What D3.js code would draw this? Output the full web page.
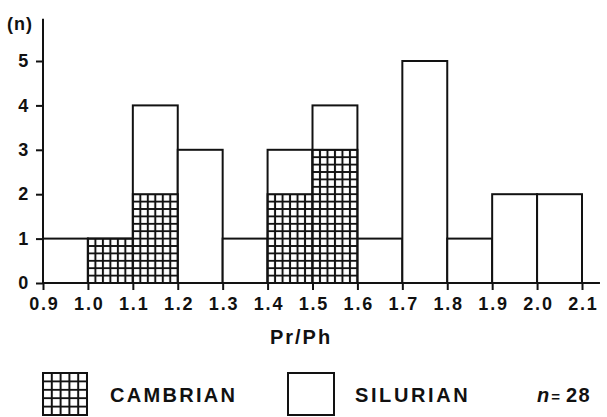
<!DOCTYPE html>
<html>
<head>
<meta charset="utf-8">
<script src="https://cdn.jsdelivr.net/npm/d3@7"></script>
<style>
  html, body { margin: 0; padding: 0; background: #fff; }
  svg { display: block; }
  text { font-family: "Liberation Sans", Arial, Helvetica, sans-serif; fill: #111; }
</style>
</head>
<body>
<svg id="chart" width="607" height="417"></svg>
<script>
// bins of Pr/Ph (left edges), counts per period
const binStarts = [0.9, 1.0, 1.1, 1.2, 1.3, 1.4, 1.5, 1.6, 1.7, 1.8, 1.9, 2.0];
const binWidth = 0.1;
const cambrian = [0, 1, 2, 0, 0, 2, 3, 0, 0, 0, 0, 0];
const silurian = [1, 0, 2, 3, 1, 1, 1, 1, 5, 1, 2, 2];
const xTicks = [0.9, 1.0, 1.1, 1.2, 1.3, 1.4, 1.5, 1.6, 1.7, 1.8, 1.9, 2.0, 2.1];
const yTicks = [0, 1, 2, 3, 4, 5];
const nTotal = 28;

const svg = d3.select("#chart");
const ink = "#121212";

// 1) scales
const x = d3.scaleLinear().domain([0.9, 2.1]).range([43, 582]);
const y = d3.scaleLinear().domain([0, 5]).range([283, 61]);
const xAxisEnd = 2.14;   // x axis line runs a bit past the last tick
const yAxisTop = 5.95;

// 2) hatch pattern (6 x 6 cells per bin / per unit)
const cellW = (x(1.0) - x(0.9)) / 6;
const cellH = (y(0) - y(1)) / 6;
const defs = svg.append("defs");
function gridPattern(id, w, h, ox, oy) {
  const p = defs.append("pattern")
    .attr("id", id)
    .attr("patternUnits", "userSpaceOnUse")
    .attr("x", ox).attr("y", oy)
    .attr("width", w).attr("height", h);
  p.append("rect").attr("width", w).attr("height", h).attr("fill", "#fff");
  p.append("path")
    .attr("d", `M0,0H${w}M0,0V${h}M${w},0V${h}M0,${h}H${w}`)
    .attr("stroke", ink)
    .attr("stroke-width", 2)
    .attr("fill", "none");
}
gridPattern("hatch", cellW, cellH, x(0.9), y(1));

const data = binStarts.map((b, i) => ({
  x0: b, x1: b + binWidth, c: cambrian[i], s: silurian[i], total: cambrian[i] + silurian[i]
}));

// 3) bars: outline of the total, then the cambrian part hatched
const bars = svg.append("g");
bars.selectAll(".tot")
  .data(data)
  .join("rect")
  .attr("class", "tot")
  .attr("x", d => x(d.x0))
  .attr("width", d => x(d.x1) - x(d.x0))
  .attr("y", d => y(d.total))
  .attr("height", d => y(0) - y(d.total))
  .attr("fill", "#fff")
  .attr("stroke", ink)
  .attr("stroke-width", 2);

bars.selectAll(".camb")
  .data(data.filter(d => d.c > 0))
  .join("rect")
  .attr("class", "camb")
  .attr("x", d => x(d.x0))
  .attr("width", d => x(d.x1) - x(d.x0))
  .attr("y", d => y(d.c))
  .attr("height", d => y(0) - y(d.c))
  .attr("fill", "url(#hatch)")
  .attr("stroke", ink)
  .attr("stroke-width", 2);

// 4) axes
const tickFont = g => g.selectAll("text")
  .attr("font-size", 18)
  .attr("font-weight", "bold")
  .attr("letter-spacing", 1.8)
  .attr("fill", ink);

const xAxis = svg.append("g")
  .attr("transform", `translate(0,${y(0)})`)
  .call(d3.axisBottom(x).tickValues(xTicks).tickSize(7).tickPadding(7)
    .tickFormat(d3.format(".1f")))
  .call(g => g.select(".domain").remove())
  .call(g => g.selectAll("line").attr("stroke", ink).attr("stroke-width", 2))
  .call(tickFont)
  .call(g => g.selectAll("text").attr("dx", "0.05em"));
xAxis.append("line")
  .attr("x1", x(0.9)).attr("x2", x(xAxisEnd))
  .attr("stroke", ink).attr("stroke-width", 2);

const yAxis = svg.append("g")
  .attr("transform", `translate(${x(0.9)},0)`)
  .call(d3.axisLeft(y).tickValues(yTicks).tickSize(7).tickPadding(6)
    .tickFormat(d3.format("d")))
  .call(g => g.select(".domain").remove())
  .call(g => g.selectAll("line").attr("stroke", ink).attr("stroke-width", 2))
  .call(tickFont);
yAxis.append("line")
  .attr("y1", y(0)).attr("y2", y(yAxisTop))
  .attr("stroke", ink).attr("stroke-width", 2);

svg.append("text")
  .attr("x", 7).attr("y", 30)
  .attr("font-size", 18).attr("font-weight", "bold")
  .attr("letter-spacing", 1)
  .text("(n)");

svg.append("text")
  .attr("x", 301).attr("y", 344)
  .attr("text-anchor", "middle")
  .attr("font-size", 20).attr("font-weight", "bold")
  .attr("letter-spacing", 2)
  .text("Pr/Ph");

// 5) legend
gridPattern("hatchLegend", 44 / 5, 42 / 5, 43, 373);
const legend = svg.append("g");
legend.append("rect")
  .attr("x", 43).attr("y", 373).attr("width", 44).attr("height", 42)
  .attr("fill", "url(#hatchLegend)")
  .attr("stroke", ink).attr("stroke-width", 2);
legend.append("text")
  .attr("x", 110).attr("y", 402)
  .attr("font-size", 20).attr("font-weight", "bold")
  .attr("letter-spacing", 2.3)
  .text("CAMBRIAN");

legend.append("rect")
  .attr("x", 288).attr("y", 373).attr("width", 46).attr("height", 42)
  .attr("fill", "#fff")
  .attr("stroke", ink).attr("stroke-width", 2);
legend.append("text")
  .attr("x", 355).attr("y", 402)
  .attr("font-size", 20).attr("font-weight", "bold")
  .attr("letter-spacing", 2.6)
  .text("SILURIAN");

const nText = legend.append("text")
  .attr("x", 537).attr("y", 402)
  .attr("font-size", 20).attr("font-weight", "bold");
nText.append("tspan").attr("font-style", "italic").text("n");
nText.append("tspan").attr("dx", 2).attr("font-size", 15).text("=");
nText.append("tspan").attr("dx", 6).attr("letter-spacing", 1.5).text(nTotal);
</script>
</body>
</html>
